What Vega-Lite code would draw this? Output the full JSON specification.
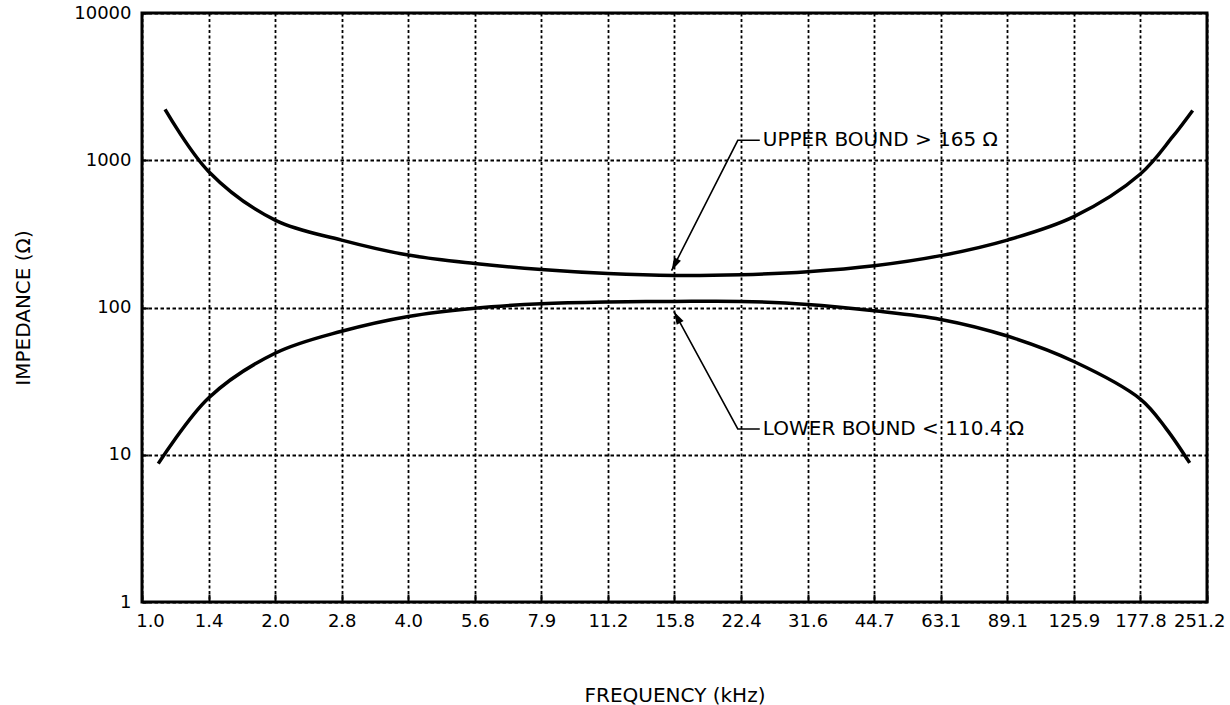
{
  "$schema": "https://vega.github.io/schema/vega-lite/v6.json",
  "width": 1065,
  "height": 589,
  "autosize": {"type": "none"},
  "padding": {"left": 142, "top": 13, "right": 23, "bottom": 103},
  "background": "white",
  "config": {
    "view": {"stroke": "black", "strokeWidth": 3},
    "font": "DejaVu Sans"
  },
  "datasets": {
    "curves": [
      {"bound": "upper", "freq": 1.127, "imp": 2213},
      {"bound": "upper", "freq": 1.4125, "imp": 840},
      {"bound": "upper", "freq": 1.995, "imp": 392},
      {"bound": "upper", "freq": 2.818, "imp": 287},
      {"bound": "upper", "freq": 3.981, "imp": 227},
      {"bound": "upper", "freq": 5.623, "imp": 199},
      {"bound": "upper", "freq": 7.943, "imp": 181},
      {"bound": "upper", "freq": 11.22, "imp": 170},
      {"bound": "upper", "freq": 15.85, "imp": 165},
      {"bound": "upper", "freq": 22.39, "imp": 167},
      {"bound": "upper", "freq": 31.62, "imp": 175},
      {"bound": "upper", "freq": 44.67, "imp": 192},
      {"bound": "upper", "freq": 63.1, "imp": 225},
      {"bound": "upper", "freq": 89.13, "imp": 287},
      {"bound": "upper", "freq": 125.9, "imp": 414},
      {"bound": "upper", "freq": 177.8, "imp": 807},
      {"bound": "upper", "freq": 210.2, "imp": 1445},
      {"bound": "upper", "freq": 233.2, "imp": 2180},
      {"bound": "lower", "freq": 1.088, "imp": 8.7},
      {"bound": "lower", "freq": 1.4125, "imp": 24.3},
      {"bound": "lower", "freq": 1.995, "imp": 48.9},
      {"bound": "lower", "freq": 2.818, "imp": 69},
      {"bound": "lower", "freq": 3.981, "imp": 87},
      {"bound": "lower", "freq": 5.623, "imp": 99},
      {"bound": "lower", "freq": 7.943, "imp": 106},
      {"bound": "lower", "freq": 11.22, "imp": 109},
      {"bound": "lower", "freq": 15.85, "imp": 110},
      {"bound": "lower", "freq": 22.39, "imp": 110},
      {"bound": "lower", "freq": 31.62, "imp": 105},
      {"bound": "lower", "freq": 44.67, "imp": 95},
      {"bound": "lower", "freq": 63.1, "imp": 83},
      {"bound": "lower", "freq": 89.13, "imp": 64},
      {"bound": "lower", "freq": 125.9, "imp": 43},
      {"bound": "lower", "freq": 177.8, "imp": 23.9},
      {"bound": "lower", "freq": 203.4, "imp": 15},
      {"bound": "lower", "freq": 229.6, "imp": 8.8}
    ],
    "leaders": [
      {"ann": "upper", "seq": 1, "freq": 24.67, "imp": 1366},
      {"ann": "upper", "seq": 2, "freq": 22.01, "imp": 1366},
      {"ann": "upper", "seq": 3, "freq": 15.61, "imp": 178},
      {"ann": "lower", "seq": 1, "freq": 24.67, "imp": 14.96},
      {"ann": "lower", "seq": 2, "freq": 22.01, "imp": 14.96},
      {"ann": "lower", "seq": 3, "freq": 15.8, "imp": 94.1}
    ],
    "arrows": [
      {"ann": "upper", "freq": 15.61, "imp": 178},
      {"ann": "lower", "freq": 15.8, "imp": 94.1}
    ],
    "labels": [
      {"label": "UPPER BOUND > 165 Ω", "freq": 25.06, "imp": 1366},
      {"label": "LOWER BOUND < 110.4 Ω", "freq": 25.06, "imp": 14.96}
    ]
  },
  "layer": [
    {
      "data": {"name": "curves"},
      "mark": {"type": "line", "color": "black", "strokeWidth": 3.5, "interpolate": "catmull-rom"},
      "encoding": {
        "x": {
          "field": "freq", "type": "quantitative",
          "scale": {"type": "log", "domain": [1, 251.1886], "nice": false},
          "axis": {
            "values": [1, 1.4125, 1.9953, 2.8184, 3.9811, 5.6234, 7.9433, 11.2202, 15.8489, 22.3872, 31.6228, 44.6684, 63.0957, 89.1251, 125.8925, 177.8279, 251.1886],
            "labelExpr": "format(datum.value, '.1f')",
            "labelFlush": false, "labelOverlap": false,
            "labelAlign": {"condition": {"test": "datum.value > 200", "value": "right"}, "value": "center"},
            "labelOffset": {"condition": [{"test": "datum.value > 200", "value": 18}, {"test": "datum.value < 1.1", "value": 8}], "value": 0},
            "labelFont": "DejaVu Sans", "labelFontSize": 18, "labelColor": "black", "labelPadding": 18,
            "domain": false, "ticks": true, "tickSize": -8, "tickColor": "black", "tickWidth": 2,
            "grid": true, "gridColor": "black", "gridOpacity": 1, "gridWidth": 1.8, "gridDash": [3, 2.5],
            "title": "FREQUENCY (kHz)", "titleFont": "DejaVu Sans", "titleFontSize": 20, "titleFontWeight": "normal", "titleColor": "black",
            "titleX": 532.5, "titleY": 93, "titleBaseline": "middle", "titleAlign": "center"
          }
        },
        "y": {
          "field": "imp", "type": "quantitative",
          "scale": {"type": "log", "domain": [1, 10000], "nice": false},
          "axis": {
            "values": [1, 10, 100, 1000, 10000],
            "labelExpr": "format(datum.value, 'd')",
            "labelFlush": false, "labelOverlap": false,
            "labelFont": "DejaVu Sans", "labelFontSize": 18, "labelColor": "black", "labelPadding": 17,
            "domain": false, "ticks": true, "tickSize": -6, "tickColor": "black", "tickWidth": 2,
            "grid": true, "gridColor": "black", "gridOpacity": 1, "gridWidth": 1.8, "gridDash": [3.5, 2.5],
            "title": "IMPEDANCE (Ω)", "titleFont": "DejaVu Sans", "titleFontSize": 20, "titleFontWeight": "normal", "titleColor": "black",
            "titleX": -119, "titleY": 294.5, "titleBaseline": "middle", "titleAlign": "center", "titleAngle": -90
          }
        },
        "detail": {"field": "bound"}
      }
    },
    {
      "data": {"name": "leaders"},
      "mark": {"type": "line", "color": "black", "strokeWidth": 1.6},
      "encoding": {
        "x": {"field": "freq", "type": "quantitative"},
        "y": {"field": "imp", "type": "quantitative"},
        "detail": {"field": "ann"},
        "order": {"field": "seq"}
      }
    },
    {
      "data": {"name": "arrows"},
      "transform": [{"filter": "datum.ann === 'upper'"}],
      "mark": {"type": "point", "shape": "M0,0L-0.3,1L0.3,1Z", "filled": true, "color": "black", "opacity": 1, "size": 676, "angle": 207, "strokeWidth": 0},
      "encoding": {
        "x": {"field": "freq", "type": "quantitative"},
        "y": {"field": "imp", "type": "quantitative"}
      }
    },
    {
      "data": {"name": "arrows"},
      "transform": [{"filter": "datum.ann === 'lower'"}],
      "mark": {"type": "point", "shape": "M0,0L-0.3,1L0.3,1Z", "filled": true, "color": "black", "opacity": 1, "size": 676, "angle": 331.4, "strokeWidth": 0},
      "encoding": {
        "x": {"field": "freq", "type": "quantitative"},
        "y": {"field": "imp", "type": "quantitative"}
      }
    },
    {
      "data": {"name": "labels"},
      "mark": {"type": "text", "align": "left", "baseline": "middle", "font": "DejaVu Sans", "fontSize": 20, "color": "black"},
      "encoding": {
        "x": {"field": "freq", "type": "quantitative"},
        "y": {"field": "imp", "type": "quantitative"},
        "text": {"field": "label"}
      }
    }
  ]
}
